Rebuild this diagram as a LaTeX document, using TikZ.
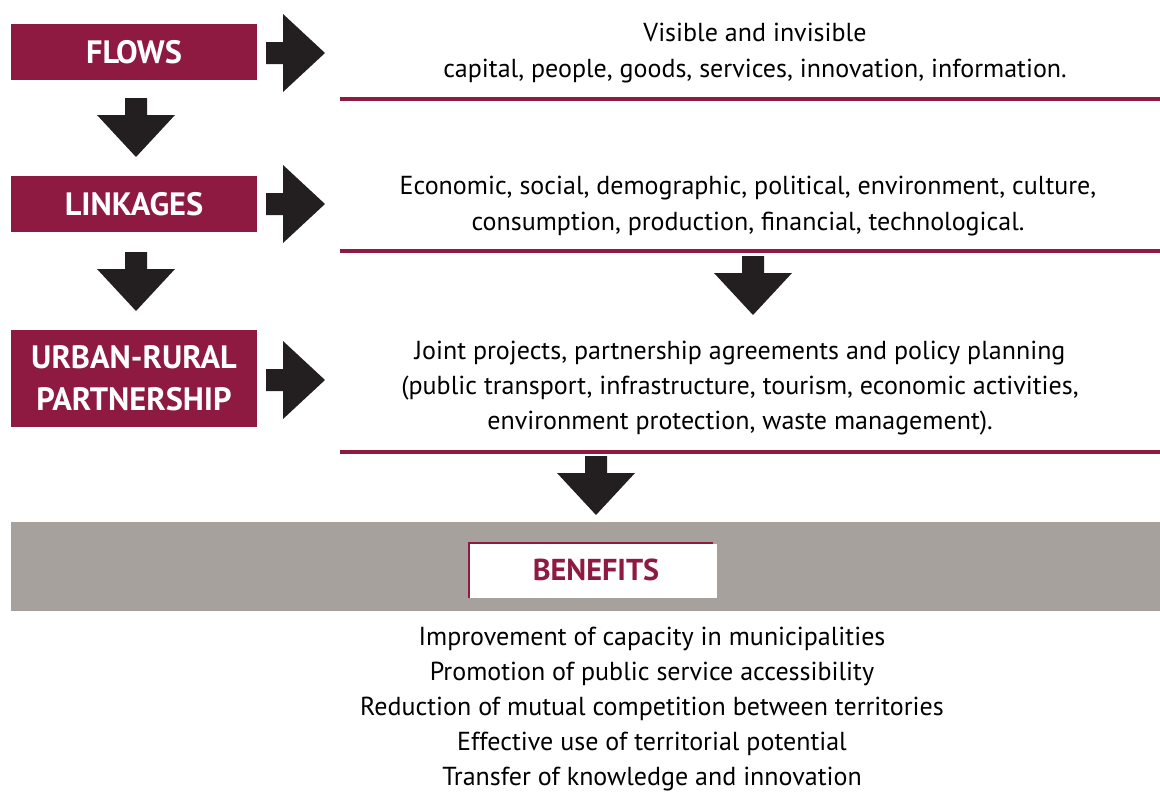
\documentclass[tikz,border=0pt]{standalone}
\usepackage{fontspec}
\setmainfont{PT Sans}
\definecolor{wine}{RGB}{142,26,66}
\definecolor{stone}{RGB}{167,161,157}
\definecolor{blockblack}{RGB}{35,31,32}
\tikzset{
  stagebox/.style={fill=wine, text=white, inner sep=0pt, minimum width=6.15cm,
    font=\bfseries\fontsize{23}{30}\selectfont, align=center},
  bodytext/.style={inner sep=0pt, align=center, font=\fontsize{18.5}{25}\selectfont},
  rule/.style={draw=wine, line width=2.2pt},
  rarrow/.pic={\fill[blockblack] (0,-11) -- (17,-11) -- (17,-39) -- (59,0) -- (17,39) -- (17,11) -- (0,11) -- cycle;},
  darrow/.pic={\fill[blockblack] (-11,0) -- (-11,17) -- (-39,17) -- (0,59) -- (39,17) -- (11,17) -- (11,0) -- cycle;}
}
\begin{document}
\begin{tikzpicture}[x=0.025cm, y=-0.025cm]
  \useasboundingbox (0,0) rectangle (1160,802);

  % Stages on the left
  \node[stagebox, minimum height=1.4cm] (flows) at (134,52) {FLOWS};
  \node[stagebox, minimum height=1.4cm] (linkages) at (134,204) {LINKAGES};
  \node[stagebox, minimum height=2.425cm] (partnership) at (134,378.5) {URBAN-RURAL\\PARTNERSHIP};

  % Descriptions on the right
  \node[bodytext] (flowsText) at (755,53) {Visible and invisible\\capital, people, goods, services, innovation, information.};
  \node[bodytext] (linkagesText) at (748,206) {Economic, social, demographic, political, environment, culture,\\consumption, production, financial, technological.};
  \node[bodytext] (partnershipText) at (740,388) {Joint projects, partnership agreements and policy planning\\(public transport, infrastructure, tourism, economic activities,\\environment protection, waste management).};

  % Rules under the descriptions
  \foreach \y in {99,251,452} {
    \draw[rule] (340,\y) -- (1160,\y);
  }

  % Block arrows
  \foreach \y in {53,204,380} {
    \pic at (266,\y) {rarrow};
  }
  \foreach \x/\y in {136/98, 136/252, 753/256, 596/456} {
    \pic at (\x,\y) {darrow};
  }

  % Benefits band
  \fill[stone] (11,522) rectangle (1160,611);
  \fill[white] (470,544) rectangle (717,598);
  \draw[wine, line width=1.6pt] (469,598) -- (469,543) -- (713,543);
  \node[font=\bfseries\fontsize{21.5}{24}\selectfont, text=wine] (benefits) at (596,570) {BENEFITS};

  % Benefits list
  \node[bodytext] (benefitsList) at (652,709) {Improvement of capacity in municipalities\\Promotion of public service accessibility\\Reduction of mutual competition between territories\\Effective use of territorial potential\\Transfer of knowledge and innovation};
\end{tikzpicture}
\end{document}
